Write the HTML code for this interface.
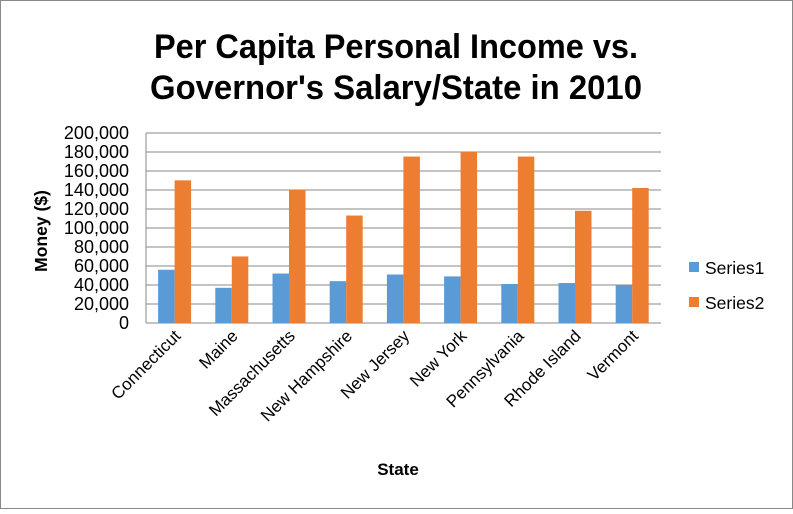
<!DOCTYPE html>
<html><head><style>body{margin:0;background:#fff}</style></head><body>
<svg width="793" height="509" xmlns="http://www.w3.org/2000/svg" font-family="Liberation Sans, sans-serif">
<rect x="0.5" y="0.5" width="792" height="508" fill="#fff" stroke="#888"/>
<text x="396" y="58" text-anchor="middle" font-size="34" font-weight="bold" textLength="484" lengthAdjust="spacingAndGlyphs">Per Capita Personal Income vs.</text>
<text x="396" y="99" text-anchor="middle" font-size="34" font-weight="bold" textLength="492" lengthAdjust="spacingAndGlyphs">Governor's Salary/State in 2010</text>
<g stroke="#888" stroke-width="1">
<line x1="146" x2="661" y1="133" y2="133"/><line x1="146" x2="661" y1="152" y2="152"/><line x1="146" x2="661" y1="171" y2="171"/><line x1="146" x2="661" y1="190" y2="190"/><line x1="146" x2="661" y1="209" y2="209"/><line x1="146" x2="661" y1="228" y2="228"/><line x1="146" x2="661" y1="247" y2="247"/><line x1="146" x2="661" y1="266" y2="266"/><line x1="146" x2="661" y1="285" y2="285"/><line x1="146" x2="661" y1="304" y2="304"/><line x1="146" x2="661" y1="323" y2="323"/>
<line x1="146" x2="146" y1="133" y2="323"/>
</g>
<g font-size="18" text-anchor="end" fill="#000">
<text x="129" y="139">200,000</text><text x="129" y="158">180,000</text><text x="129" y="177">160,000</text><text x="129" y="196">140,000</text><text x="129" y="215">120,000</text><text x="129" y="234">100,000</text><text x="129" y="253">80,000</text><text x="129" y="272">60,000</text><text x="129" y="291">40,000</text><text x="129" y="310">20,000</text><text x="129" y="329">0</text>
</g>
<g id="bars"></g>
<g font-size="17" text-anchor="end" id="cats"></g>
<text transform="translate(47,231) rotate(-90)" text-anchor="middle" font-size="17.5" font-weight="bold">Money ($)</text>
<text x="398" y="475" text-anchor="middle" font-size="17" font-weight="bold">State</text>
<rect x="689" y="262" width="10" height="10" fill="#5b9bd5"/>
<text x="705" y="274" font-size="17.5">Series1</text>
<rect x="689" y="297" width="10" height="10" fill="#ed7d31"/>
<text x="705" y="309" font-size="17.5">Series2</text>
</svg>
<script>
var s1=[56,37,52,44,51,49,41,42,40],s2=[150,70,140,113,175,180,175,118,142],
n=["Connecticut","Maine","Massachusetts","New Hampshire","New Jersey","New York","Pennsylvania","Rhode Island","Vermont"],
b="",c="";
for(var i=0;i<9;i++){var cx=146+57.2*(i+0.5);
var h1=s1[i]*0.951,h2=s2[i]*0.951;
b+='<rect x="'+(cx-16.5)+'" y="'+(323-h1)+'" width="16.5" height="'+h1+'" fill="#5b9bd5"/>';
b+='<rect x="'+cx+'" y="'+(323-h2)+'" width="16.5" height="'+h2+'" fill="#ed7d31"/>';
c+='<text transform="translate('+(cx+7)+',337) rotate(-45)">'+n[i]+'</text>';}
document.getElementById("bars").innerHTML=b;document.getElementById("cats").innerHTML=c;
</script>
</body></html>
